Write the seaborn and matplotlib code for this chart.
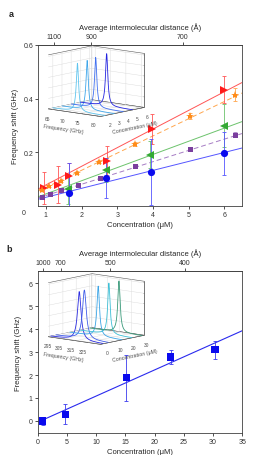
import numpy as np
import pandas as pd
import matplotlib
matplotlib.use("Agg")
import matplotlib.pyplot as plt
import seaborn as sns
from mpl_toolkits.mplot3d import Axes3D, proj3d  # noqa: F401

# ---------------- data: panel a ----------------
red_x = [0.96, 1.35, 1.66, 2.72, 3.97, 6.00]
red_y = [0.067, 0.080, 0.110, 0.166, 0.287, 0.434]
red_err = [0.058, 0.068, 0.050, 0.056, 0.055, 0.052]

orange_x = [0.88, 1.10, 1.42, 1.87, 2.49, 3.49, 5.04, 6.29]
orange_y = [0.060, 0.073, 0.093, 0.124, 0.165, 0.230, 0.335, 0.415]
orange_err = [0.004, 0.004, 0.005, 0.005, 0.006, 0.008, 0.010, 0.025]

green_x = [1.63, 2.69, 3.92, 6.00]
green_y = [0.063, 0.135, 0.191, 0.299]
green_err = [0.055, 0.045, 0.050, 0.080]

purple_x = [0.89, 1.12, 1.43, 1.89, 2.52, 3.50, 5.05, 6.30]
purple_y = [0.035, 0.044, 0.060, 0.078, 0.104, 0.148, 0.212, 0.266]
purple_err = [0.004, 0.004, 0.004, 0.005, 0.005, 0.006, 0.006, 0.008]

blue_x = [1.66, 2.70, 3.95, 6.00]
blue_y = [0.050, 0.104, 0.127, 0.196]
blue_err = [0.110, 0.075, 0.123, 0.081]

# linear fits (slope, intercept)
fit_red = [0.0694, 0.009]
fit_orange = [0.0640, 0.005]
fit_green = [0.0490, -0.004]
fit_purple = [0.0420, -0.003]
fit_blue = [0.0334, -0.001]

a_top_pos = [1.24, 2.27, 4.84]
a_top_labels = ["1100", "900", "700"]
a_xticks = [1, 2, 3, 4, 5, 6]
a_yticks = [0.2, 0.4, 0.6]

# inset a: Lorentzian peak parameters
a_in_conc = [2, 3, 4, 5]
a_in_center = [72.0, 72.2, 72.0, 72.6]
a_in_width = [0.45, 0.45, 0.45, 0.45]
a_in_height = [0.92, 0.94, 0.96, 1.0]
a_in_colors = ["#5ec4ee", "#3ea6ea", "#3f6ff0", "#2323e0"]

# ---------------- data: panel b ----------------
b_x = [0.86, 4.73, 15.16, 22.75, 30.33]
b_y = [0.00, 0.29, 1.89, 2.79, 3.10]
b_err = [0.18, 0.44, 1.00, 0.29, 0.38]
fit_b = [0.114, -0.056]

b_top_pos = [0.86, 3.94, 12.4, 25.2]
b_top_labels = ["1000", "700", "500", "400"]
b_xticks = [0, 5, 10, 15, 20, 25, 30, 35]
b_yticks = [0, 1, 2, 3, 4, 5, 6]

b_in_conc = [0.86, 4.73, 15.16, 22.75, 30.33]
b_in_center = [316.0, 316.0, 316.0, 316.5, 316.5]
b_in_width = [1.8, 1.9, 1.3, 1.2, 1.2]
b_in_height = [0.93, 0.94, 0.96, 0.98, 0.98]
b_in_colors = ["#2a2ae0", "#3f5ce8", "#3aa4e6", "#3cbfd6", "#3a9a7a"]

# ---------------- style ----------------
sns.set_style("ticks")
plt.rcParams["font.family"] = ["Liberation Sans", "DejaVu Sans"]
plt.rcParams["axes.linewidth"] = 0.6
plt.rcParams["xtick.major.width"] = 0.6
plt.rcParams["ytick.major.width"] = 0.6
plt.rcParams["xtick.major.size"] = 2.0
plt.rcParams["ytick.major.size"] = 2.0
plt.rcParams["xtick.major.pad"] = 1.5
plt.rcParams["ytick.major.pad"] = 1.5
plt.rcParams["axes.edgecolor"] = "0.25"

W, H = 271, 456
fig = plt.figure(figsize=(W / 100, H / 100), dpi=100)


def frac_rect(x0, y0, x1, y1):
    return [x0 / W, 1 - y1 / H, (x1 - x0) / W, (y1 - y0) / H]


TICK_FS = 5.0
LABEL_FS = 5.5

# ================= panel a =================
ax_a = fig.add_axes(frac_rect(38, 46, 242, 207))
ax_a.set_xlim(0.78, 6.5)
ax_a.set_ylim(0, 0.6)

series = [
    (red_x, red_y, red_err, fit_red, "#ff1a1a", "#ff5555", ">", 5.6, "-"),
    (orange_x, orange_y, orange_err, fit_orange, "#ff8c1a", "#ffa64d", "*", 6.0, (0, (5, 3))),
    (green_x, green_y, green_err, fit_green, "#33a933", "#6cc36c", "<", 5.6, "-"),
    (purple_x, purple_y, purple_err, fit_purple, "#7b3f9e", "#a67cc4", "s", 3.6, (0, (5, 3))),
    (blue_x, blue_y, blue_err, fit_blue, "#0a0aee", "#5555ff", "o", 5.2, "-"),
]
xl = np.array(ax_a.get_xlim())
for xs, ys, es, fit, pc, lc, mk, ms, ls in series:
    line_df = pd.DataFrame({"x": xl, "y": fit[0] * xl + fit[1]})
    sns.lineplot(data=line_df, x="x", y="y", ax=ax_a, color=lc, lw=0.7,
                 linestyle=ls, legend=False)
for xs, ys, es, fit, pc, lc, mk, ms, ls in series:
    ax_a.errorbar(xs, ys, yerr=es, fmt="none", ecolor=lc, elinewidth=0.6,
                  capsize=1.6, capthick=0.6, zorder=3)
    ax_a.plot(xs, ys, linestyle="none", marker=mk, ms=ms, color=pc,
              markeredgewidth=0, zorder=4)

ax_a.set_xticks(a_xticks)
ax_a.set_xticklabels([str(v) for v in a_xticks])
ax_a.set_yticks(a_yticks)
ax_a.set_yticklabels(["0.2", "0.4", "0.6"])
ax_a.tick_params(labelsize=TICK_FS, colors="0.2")
ax_a.set_xlabel("Concentration (\u03bcM)", fontsize=LABEL_FS, labelpad=2)
ax_a.set_ylabel("Frequency shift (GHz)", fontsize=LABEL_FS, labelpad=3)
ax_a.text(-0.06, -0.04, "0", transform=ax_a.transAxes, fontsize=TICK_FS,
          ha="right", va="center", color="0.2")
for s in ax_a.spines.values():
    s.set_visible(True)
sec_a = ax_a.secondary_xaxis("top")
sec_a.set_xticks(a_top_pos)
sec_a.set_xticklabels(a_top_labels)
sec_a.tick_params(labelsize=TICK_FS, colors="0.2")
sec_a.set_xlabel("Average intermolecular distance (\u00c5)", fontsize=LABEL_FS, labelpad=3)

# ================= panel b =================
ax_b = fig.add_axes(frac_rect(37.7, 271.7, 242.3, 434.3))
ax_b.set_xlim(0, 35)
ax_b.set_ylim(-0.54, 6.55)
xlb = np.array(ax_b.get_xlim())
sns.lineplot(x=xlb, y=fit_b[0] * xlb + fit_b[1], ax=ax_b, color="#2a2aee", lw=0.8)
ax_b.errorbar(b_x, b_y, yerr=b_err, fmt="none", ecolor="#3a3aee",
              elinewidth=0.6, capsize=1.6, capthick=0.6, zorder=3)
sns.scatterplot(x=b_x, y=b_y, ax=ax_b, marker="s", s=27, color="#0a0aee",
                edgecolor="none", zorder=4)
ax_b.set_xticks(b_xticks)
ax_b.set_yticks(b_yticks)
ax_b.tick_params(labelsize=TICK_FS, colors="0.2")
ax_b.set_xlabel("Concentration (\u03bcM)", fontsize=LABEL_FS, labelpad=2)
ax_b.set_ylabel("Frequency shift (GHz)", fontsize=LABEL_FS, labelpad=5)
for s in ax_b.spines.values():
    s.set_visible(True)
sec_b = ax_b.secondary_xaxis("top")
sec_b.set_xticks(b_top_pos)
sec_b.set_xticklabels(b_top_labels)
sec_b.tick_params(labelsize=TICK_FS, colors="0.2")
sec_b.set_xlabel("Average intermolecular distance (\u00c5)", fontsize=LABEL_FS, labelpad=3)

fig.text(11 / W, 1 - 14.3 / H, "a", fontsize=6.5, weight="bold", ha="center", va="center")
fig.text(9 / W, 1 - 250 / H, "b", fontsize=6.5, weight="bold", ha="center", va="center")


# ================= 3D insets =================
def inset3d(rect, xlim, ylim, xticks, yticks, concs, centers, widths, heights, colors):
    ax3 = fig.add_axes(rect, projection="3d")
    ax3.set_facecolor((1, 1, 1, 0))
    ax3.patch.set_alpha(0)
    ax3.set_proj_type("ortho")
    ax3.view_init(elev=10, azim=-50)
    ax3.set_box_aspect((4, 4, 3.2))
    f = np.linspace(xlim[0], xlim[1], 600)
    for c, f0, g, h, col in zip(concs, centers, widths, heights, colors):
        z = h * g ** 2 / ((f - f0) ** 2 + g ** 2)
        ax3.plot(f, np.full_like(f, c), z, color=col, lw=0.6)
    ax3.set_xlim(*xlim)
    ax3.set_ylim(*ylim)
    ax3.set_zlim(0, 1.03)
    ax3.set_xticks(xticks)
    ax3.set_yticks(yticks)
    ax3.set_zticks([0.2, 0.4, 0.6, 0.8, 1.0])
    ax3.set_zticklabels([])
    for axis in (ax3.xaxis, ax3.yaxis, ax3.zaxis):
        axis.set_pane_color((1, 1, 1, 1))
        axis.pane.set_edgecolor("0.35")
        axis.pane.set_linewidth(0.4)
        axis._axinfo["grid"].update(color="0.85", linewidth=0.3)
        axis._axinfo["tick"].update(inward_factor=0.0, outward_factor=0.15,
                                    linewidth={True: 0.3, False: 0.3})
        axis.line.set_linewidth(0.4)
        axis.line.set_color("0.35")
    ax3.tick_params(axis="both", labelsize=3.5, pad=-4, colors="0.3")
    ax3.set_xlabel("Frequency (GHz)", fontsize=3.8, labelpad=-11, color="0.3")
    ax3.set_ylabel("Concentration (\u03bcM)", fontsize=3.8, labelpad=-11, color="0.3")
    return ax3


def box_corners_px(ax3):
    xs, ys, zs = ax3.get_xlim3d(), ax3.get_ylim3d(), ax3.get_zlim3d()
    pts = np.array([(x, y, z) for x in xs for y in ys for z in zs])
    px, py, _ = proj3d.proj_transform(pts[:, 0], pts[:, 1], pts[:, 2], ax3.get_proj())
    return ax3.transData.transform(np.column_stack([px, py])), pts


def fit_box(ax3, target, ratio):
    # target: (left, right, top, bottom) in image pixels (origin top-left)
    for _ in range(2):
        fig.canvas.draw()
        disp, pts = box_corners_px(ax3)
        xs, ys, zs = ax3.get_xlim3d(), ax3.get_ylim3d(), ax3.get_zlim3d()
        i0 = np.where((pts[:, 0] == xs[0]) & (pts[:, 1] == ys[0]) & (pts[:, 2] == zs[0]))[0][0]
        i1 = np.where((pts[:, 0] == xs[0]) & (pts[:, 1] == ys[0]) & (pts[:, 2] == zs[1]))[0][0]
        edge = np.hypot(*(disp[i1] - disp[i0]))
        width = disp[:, 0].max() - disp[:, 0].min()
        ba = np.array(ax3.get_box_aspect())
        ba = ba / ba[0] * 4
        ba[2] *= ratio / (edge / width)
        ax3.set_box_aspect(tuple(ba))
    fig.canvas.draw()
    disp, _ = box_corners_px(ax3)
    pos = ax3.get_position()
    L = pos.width * W
    cx = (pos.x0 + pos.width / 2) * W
    cy = (pos.y0 + pos.height / 2) * H
    bx0, bx1 = disp[:, 0].min(), disp[:, 0].max()
    by0, by1 = disp[:, 1].min(), disp[:, 1].max()
    s = (target[1] - target[0]) / (bx1 - bx0)
    dx = (bx0 + bx1) / 2 - cx
    dy = (by0 + by1) / 2 - cy
    tcx = (target[0] + target[1]) / 2
    tcy = H - (target[2] + target[3]) / 2
    Ln = L * s
    ncx = tcx - dx * s
    ncy = tcy - dy * s
    ax3.set_position([(ncx - Ln / 2) / W, (ncy - Ln / 2) / H, Ln / W, Ln / H])


in_a = inset3d(frac_rect(30, 25, 165, 140), (64, 81), (1.5, 6.3), [65, 70, 75, 80],
               [2, 3, 4, 5, 6], a_in_conc, a_in_center, a_in_width, a_in_height, a_in_colors)
in_b = inset3d(frac_rect(30, 250, 165, 368), (292, 336), (-1, 32), [295, 305, 315, 325],
               [0, 10, 20, 30], b_in_conc, b_in_center, b_in_width, b_in_height, b_in_colors)

fit_box(in_a, (48.3, 144.3, 47.3, 117.0), 54 / 96)
fit_box(in_b, (48.3, 144.3, 275.0, 345.0), 54 / 96)

fig.savefig("out.png", dpi=100)
